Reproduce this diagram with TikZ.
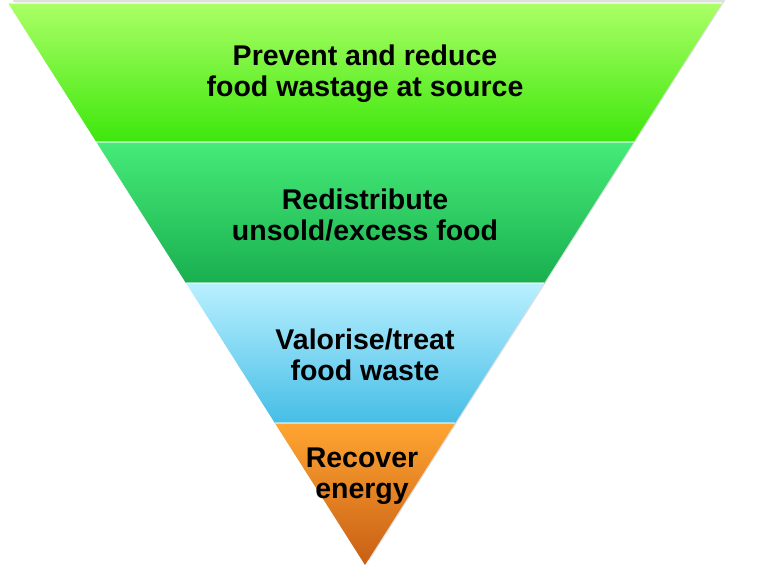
\documentclass[tikz,border=0pt]{standalone}
\usepackage{fontspec}
\setmainfont{Liberation Sans}
\begin{document}
\begin{tikzpicture}[x=1pt,y=-1pt,
  lbl/.style={font=\bfseries\fontsize{28.5}{31}\selectfont, align=center, text=black}]
\useasboundingbox (0,0) rectangle (760,578);
\coordinate (A) at (8,3); \coordinate (B) at (722,3);
\coordinate (L1) at (96.3,142); \coordinate (R1) at (633.7,142);
\coordinate (L2) at (185.9,283); \coordinate (R2) at (544.1,283);
\coordinate (L3) at (274.8,423); \coordinate (R3) at (455.2,423);
\coordinate (P) at (365,565);
\fill[black!25,opacity=0.5] ([xshift=4,yshift=4]A) -- ([xshift=4,yshift=4]B) -- ([xshift=4,yshift=4]P) -- cycle;
\shade[top color=green!40!lime!60!white, bottom color=green!70!lime!90!black!95] (A) -- (B) -- (R1) -- (L1) -- cycle;
\shade[top color={rgb,255:red,70;green,235;blue,120}, bottom color={rgb,255:red,25;green,175;blue,80}] (L1) -- (R1) -- (R2) -- (L2) -- cycle;
\shade[top color={rgb,255:red,185;green,240;blue,255}, bottom color={rgb,255:red,70;green,190;blue,230}] (L2) -- (R2) -- (R3) -- (L3) -- cycle;
\shade[top color={rgb,255:red,255;green,165;blue,50}, bottom color={rgb,255:red,200;green,95;blue,20}] (L3) -- (R3) -- (P) -- cycle;
\draw[white,opacity=0.6,line width=1.5] (A) -- (B);
\draw[white,opacity=0.5,line width=1.5] (L1) -- (R1);
\draw[white,opacity=0.5,line width=1.5] (L2) -- (R2);
\draw[white,opacity=0.5,line width=1.5] (L3) -- (R3);
\node[lbl] (t1) at (365,74) {Prevent and reduce\\food wastage at source};
\node[lbl] (t2) at (365,215) {Redistribute\\unsold/excess food};
\node[lbl] (t3) at (365,355) {Valorise/treat\\food waste};
\node[lbl] (t4) at (362,476) {Recover\\energy};
\end{tikzpicture}
\end{document}
